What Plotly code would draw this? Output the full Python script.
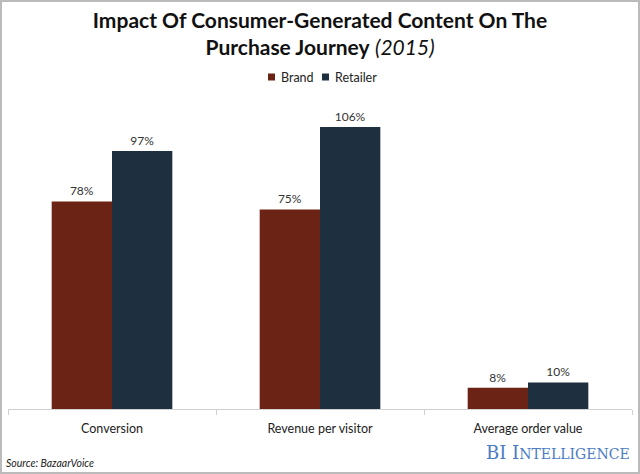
import plotly.graph_objects as go

categories = ["Conversion", "Revenue per visitor", "Average order value"]
series_names = ["Brand", "Retailer"]
brand = [78, 75, 8]
retailer = [97, 106, 10]
colors = ["#6A2314", "#1E2F40"]

W, H = 640, 474
L, R, T, B = 8, 8, 103, 65
pw, ph = W - L - R, H - T - B

font = "Lato, 'Open Sans', sans-serif"

fig = go.Figure()
for name, vals, col in zip(series_names, [brand, retailer], colors):
    fig.add_trace(go.Bar(name=name, x=categories, y=vals,
                         marker=dict(color=col, line=dict(width=0)),
                         text=[f"{v}%" for v in vals], textposition="outside",
                         textfont=dict(size=12, color="#333333"), cliponaxis=False,
                         showlegend=False))

fig.update_layout(
    width=W, height=H,
    margin=dict(l=L, r=R, t=T, b=B),
    paper_bgcolor="white", plot_bgcolor="white",
    font=dict(family=font, color="#222222"),
    barmode="group", bargap=0.42, bargroupgap=0,
    title=dict(text="<b>Impact Of Consumer-Generated Content On The<br>Purchase Journey</b> <i>(2015)</i>",
               x=0.5, xanchor="center", y=1 - 28 / H, yanchor="top",
               font=dict(size=21, color="#111111", family=font)),
    xaxis=dict(showline=True, linecolor="#D0D0D0", linewidth=1, ticks="outside",
               tickson="boundaries", ticklen=5, tickcolor="#D0D0D0",
               tickfont=dict(size=12.5, color="#222222"), ticklabelstandoff=8,
               showgrid=False),
    yaxis=dict(range=[0, 115], visible=False, showgrid=False),
)

# legend (drawn manually to match compact spacing)
leg_y = (409 - 77) / ph
sq_x = [268, 322]
for name, col, sx in zip(series_names, colors, sq_x):
    fig.add_shape(type="rect", xref="paper", yref="paper",
                  x0=(sx - L) / pw, x1=(sx + 7 - L) / pw,
                  y0=leg_y - 3.5 / ph, y1=leg_y + 3.5 / ph,
                  fillcolor=col, line=dict(width=0))
    fig.add_annotation(text=name, xref="paper", yref="paper",
                       x=(sx + 11 - L) / pw, xanchor="left", y=leg_y, yanchor="middle",
                       showarrow=False, font=dict(size=12.5, color="#222222", family=font))

fig.add_annotation(text="<i>Source: BazaarVoice</i>", xref="paper", yref="paper",
                   x=-4 / pw, xanchor="left", y=-(463 - 409) / ph, yanchor="middle",
                   showarrow=False, font=dict(size=10.5, color="#222222", family=font))
fig.add_annotation(text="BI I<span style='font-size:14px'>NTELLIGENCE</span>",
                   xref="paper", yref="paper",
                   x=1 + 0 / pw, xanchor="right", y=-(452 - 409) / ph, yanchor="middle",
                   showarrow=False,
                   font=dict(size=18, color="#4A7CC4", family="'DejaVu Serif', serif"))

fig.add_shape(type="rect", xref="paper", yref="paper",
              x0=-(L - 1) / pw, x1=1 + (R - 1) / pw, y0=-(B - 1) / ph, y1=1 + (T - 1) / ph,
              line=dict(color="#BBBBBB", width=2), fillcolor="rgba(0,0,0,0)", layer="below")

fig.write_html("out.html", config={"displayModeBar": False},
               post_script="document.body.style.margin='0';document.body.style.overflow='hidden';")
